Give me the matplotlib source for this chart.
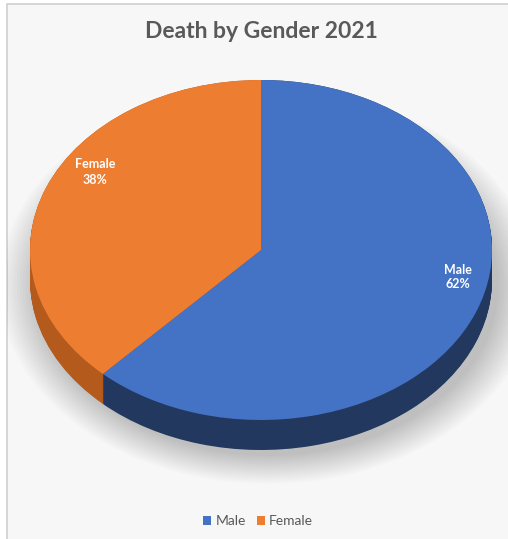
import matplotlib
matplotlib.use("Agg")
import matplotlib.pyplot as plt
from matplotlib.patches import Rectangle, Ellipse

plt.rcParams['font.family'] = ['Lato', 'DejaVu Sans']

# data
labels = ["Male", "Female"]
shares = [62, 38]
top_colors = ["#4472c4", "#ed7d31"]
side_colors = ["#22385f", "#b35a1c"]
title = "Death by Gender 2021"

W, H = 508, 539
fig = plt.figure(figsize=(W / 100, H / 100), dpi=100)
fig.patch.set_facecolor("#ffffff")

# chart area background with border
bg = fig.add_axes([0, 0, 1, 1])
bg.set_xlim(0, W)
bg.set_ylim(H, 0)
bg.axis("off")
bg.add_patch(Rectangle((7, 4), W - 4, H, facecolor="#f7f7f7",
                       edgecolor="#cfcfcf", lw=1.2))

# pie geometry in pixels
cx, cy = 261, 250      # centre of top face
rx, ry = 231, 170      # semi axes of the ellipse
depth = 30 / ry        # side height in pie units
ymin, ymax = -1.1 - depth - 0.2, 1.1
xmin, xmax = -1.1, 1.1

left = (cx + xmin * rx) / W
width = (xmax - xmin) * rx / W
bottom = 1 - (cy - ymin * ry) / H
height = (ymax - ymin) * ry / H
ax = fig.add_axes([left, bottom, width, height])

# soft shadow
for i in range(14):
    ax.add_patch(Ellipse((0.03, -depth - 0.035), 2.0 + 0.025 * i, 2.0 + 0.025 * i,
                         facecolor="#000000", alpha=0.014, lw=0))

# side wall: stacked copies of the pie moving down
steps = 40
for k in range(steps + 1):
    off = -depth * (1 - k / steps)
    ax.pie(shares, colors=side_colors, startangle=90, counterclock=False,
           center=(0, off), radius=1, frame=True,
           wedgeprops=dict(linewidth=0))

# top face
ax.pie(shares, colors=top_colors, startangle=90, counterclock=False,
       center=(0, 0), radius=1, frame=True,
       wedgeprops=dict(linewidth=0))

ax.set_aspect("auto")
ax.set_xlim(xmin, xmax)
ax.set_ylim(ymin, ymax)
ax.axis("off")

# data labels
label_pos = [(458, 277), (95, 172)]
for lab, val, (px, py) in zip(labels, shares, label_pos):
    fig.text(px / W, 1 - py / H, f"{lab}\n{val}%", color="white", fontsize=9,
             fontweight="bold", ha="center", va="center", linespacing=1.3,
             zorder=10)

fig.text(cx / W, 1 - 31 / H, title, fontsize=16.5, fontweight="bold",
         color="#595959", ha="center", va="center")

# legend
handles = [Rectangle((0, 0), 1, 1, facecolor=c) for c in top_colors]
fig.legend(handles, labels, loc="center", bbox_to_anchor=(258 / W, 1 - 521 / H),
           ncol=2, frameon=False, fontsize=10, handlelength=0.6,
           handleheight=0.6, handletextpad=0.3, columnspacing=0.8,
           labelcolor="#595959")

fig.savefig("out.png", dpi=100, facecolor=fig.get_facecolor())
